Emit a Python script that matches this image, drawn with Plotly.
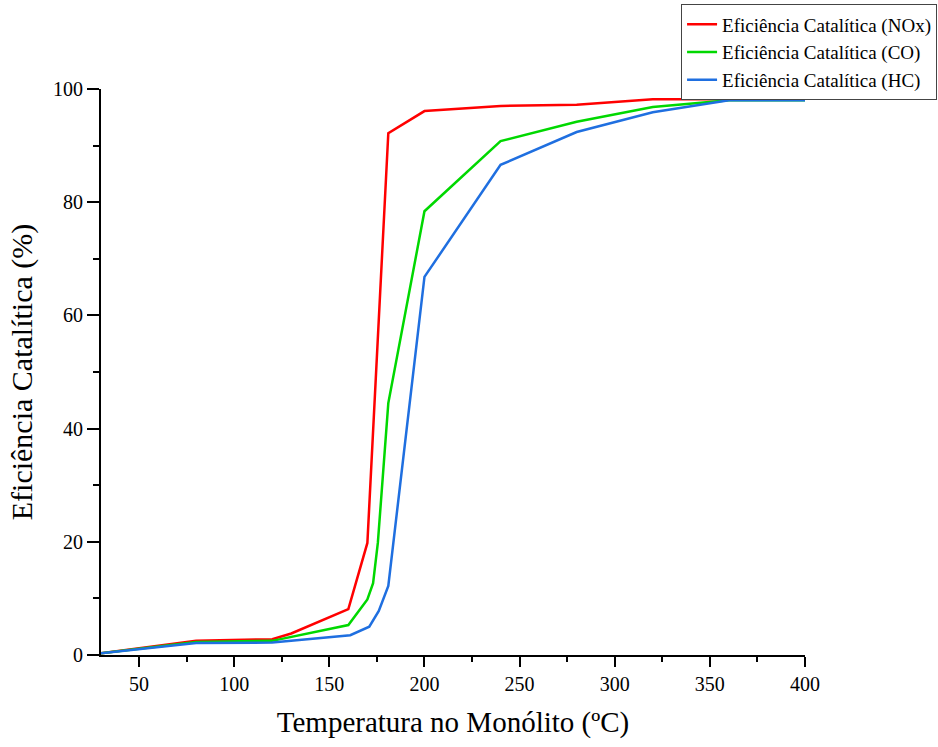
import plotly.graph_objects as go

nox_x = [30, 80, 120, 130, 160, 170, 181, 200, 240, 280, 320, 360, 400]
nox_y = [0.3, 2.5, 2.8, 3.8, 8.1, 19.8, 92.2, 96.1, 97.0, 97.2, 98.2, 98.2, 98.2]

co_x = [30, 80, 120, 160, 170, 173, 175.5, 181, 200, 240, 280, 320, 360, 400]
co_y = [0.3, 2.3, 2.5, 5.3, 9.8, 12.7, 19.8, 44.5, 78.4, 90.8, 94.2, 96.8, 98.0, 98.0]

hc_x = [30, 80, 120, 161, 171, 176, 181, 200, 240, 280, 320, 360, 400]
hc_y = [0.3, 2.1, 2.2, 3.5, 5.0, 7.8, 12.2, 66.8, 86.6, 92.4, 95.9, 98.0, 98.0]

names = ["Eficiência Catalítica (NOx)", "Eficiência Catalítica (CO)", "Eficiência Catalítica (HC)"]
colors = ["#ff0000", "#00d800", "#1f6fe0"]

fig = go.Figure()
for xs, ys, n, c in zip([nox_x, co_x, hc_x], [nox_y, co_y, hc_y], names, colors):
    fig.add_trace(go.Scatter(x=xs, y=ys, mode="lines", name=n,
                             line=dict(color=c, width=2.5)))

font_family = "Liberation Serif"
fig.update_layout(
    width=938, height=747,
    margin=dict(l=101, r=133, t=89, b=92, autoexpand=False),
    paper_bgcolor="white", plot_bgcolor="white",
    font=dict(family=font_family, color="black"),
    legend=dict(xref="container", yref="container",
                x=0.999, y=0.994, xanchor="right", yanchor="top",
                bordercolor="#444444", borderwidth=1, bgcolor="white",
                font=dict(family=font_family, size=19, color="black"),
                tracegroupgap=0),
    xaxis=dict(range=[30, 400], tickvals=[50, 100, 150, 200, 250, 300, 350, 400],
               showgrid=False, zeroline=False, showline=True, linecolor="black", linewidth=2,
               ticks="outside", ticklen=10, tickwidth=2, tickcolor="black",
               tickfont=dict(size=20, family=font_family),
               minor=dict(tickvals=[75, 125, 175, 225, 275, 325, 375], ticks="outside",
                          ticklen=5, tickwidth=2, tickcolor="black"),
               title=dict(text="Temperatura no Monólito (ºC)", font=dict(size=29, family=font_family), standoff=18)),
    yaxis=dict(range=[0, 100], tickvals=[0, 20, 40, 60, 80, 100],
               showgrid=False, zeroline=False, showline=True, linecolor="black", linewidth=2,
               ticks="outside", ticklen=12, tickwidth=2, tickcolor="black",
               tickfont=dict(size=20, family=font_family),
               minor=dict(tickvals=[10, 30, 50, 70, 90], ticks="outside",
                          ticklen=6, tickwidth=2, tickcolor="black"),
               title=dict(text="Eficiência Catalítica (%)", font=dict(size=30, family=font_family), standoff=12)),
)

fig.write_html("out.html")
